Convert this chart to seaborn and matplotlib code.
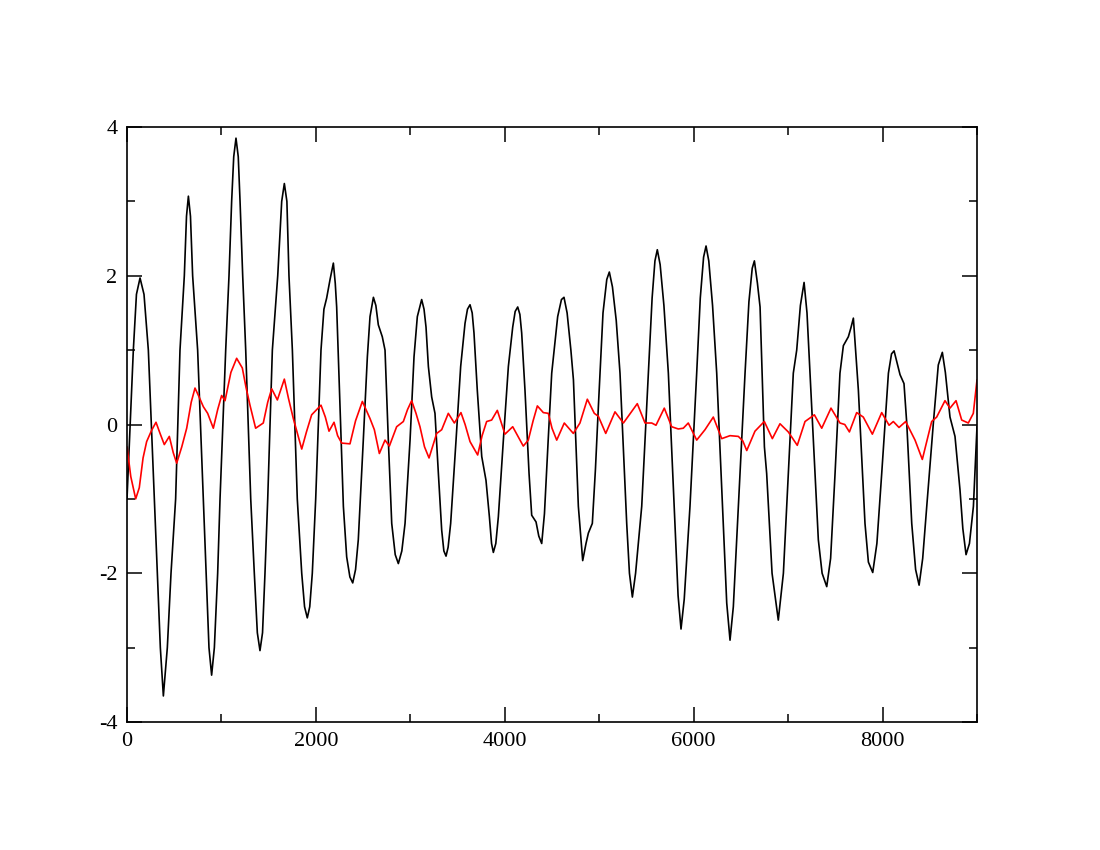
import matplotlib
matplotlib.use("Agg")
import matplotlib.pyplot as plt
import seaborn as sns
import pandas as pd
from matplotlib.ticker import MultipleLocator

# ---- data ----
black_x = [0, 67, 100, 138, 180, 226, 289, 321, 353, 385, 427, 466, 515, 561, 607, 630, 650, 672, 695, 748,
           808, 837, 868, 896, 925, 960, 985, 1045, 1080, 1108, 1130, 1154, 1178, 1197, 1225, 1257,
           1310, 1348, 1380, 1408, 1435, 1461, 1490, 1539, 1596, 1638, 1666, 1693, 1715, 1751,
           1803, 1850, 1880, 1909, 1935, 1962, 1998, 2054, 2085, 2114, 2150, 2185, 2205, 2220, 2255,
           2291, 2326, 2360, 2390, 2420, 2449, 2502, 2545, 2573, 2609, 2635, 2661, 2703, 2732, 2767,
           2803, 2840, 2873, 2910, 2944, 2997, 3039, 3074, 3120, 3145, 3166, 3191, 3226, 3261, 3297,
           3332, 3355, 3378, 3400, 3427, 3484, 3533, 3579, 3605, 3632, 3655, 3674, 3709, 3756, 3801,
           3837, 3860, 3879, 3905, 3932, 3985, 4038, 4084, 4110, 4137, 4160, 4179, 4214, 4257, 4285,
           4331, 4360, 4391, 4420, 4460, 4497, 4560, 4600, 4627, 4660, 4700, 4727, 4779, 4825, 4860,
           4885, 4927, 4960, 4991, 5040, 5080, 5107, 5140, 5180, 5220, 5291, 5320, 5351, 5385, 5450,
           5520, 5560, 5590, 5615, 5645, 5685, 5732, 5802, 5835, 5866, 5900, 5961, 6032, 6070, 6105,
           6131, 6160, 6200, 6244, 6314, 6350, 6385, 6420, 6473, 6544, 6585, 6620, 6643, 6675, 6703,
           6749, 6773, 6830, 6896, 6950, 7002, 7055, 7091, 7130, 7169, 7200, 7250, 7320, 7360, 7409,
           7450, 7497, 7549, 7585, 7638, 7665, 7691, 7715, 7744, 7814, 7850, 7896, 7940, 7991, 8062,
           8095, 8122, 8150, 8185, 8227, 8256, 8309, 8350, 8387, 8425, 8468, 8538, 8590, 8633, 8665,
           8714, 8767, 8820, 8850, 8884, 8920, 8962, 9000]
black_y = [-1.0, 1.0, 1.75, 1.97, 1.75, 1.0, -1.0, -2.0, -3.0, -3.65, -3.0, -2.0, -1.0, 1.0, 2.0, 2.8, 3.07, 2.8, 2.0, 1.0,
           -1.0, -2.0, -3.0, -3.37, -3.0, -2.0, -1.0, 1.0, 2.0, 3.0, 3.6, 3.85, 3.6, 3.0, 2.0, 1.0,
           -1.0, -2.0, -2.8, -3.04, -2.8, -2.0, -1.0, 1.0, 2.0, 3.0, 3.24, 3.0, 2.0, 1.0,
           -1.0, -2.0, -2.45, -2.6, -2.45, -2.0, -1.0, 1.0, 1.55, 1.70, 1.95, 2.17, 1.9, 1.58, 0.24,
           -1.10, -1.78, -2.05, -2.13, -1.95, -1.55, -0.21, 0.91, 1.45, 1.71, 1.6, 1.34, 1.18, 1.0, -0.21,
           -1.33, -1.75, -1.87, -1.7, -1.33, -0.21, 0.91, 1.45, 1.68, 1.55, 1.31, 0.78, 0.37, 0.15, -0.66,
           -1.42, -1.7, -1.77, -1.65, -1.33, -0.21, 0.78, 1.36, 1.55, 1.61, 1.5, 1.23, 0.46, -0.43, -0.75,
           -1.24, -1.6, -1.72, -1.6, -1.24, -0.21, 0.78, 1.31, 1.52, 1.58, 1.48, 1.23, 0.46, -0.66, -1.22,
           -1.31, -1.5, -1.60, -1.2, -0.2, 0.69, 1.45, 1.68, 1.71, 1.5, 1.0, 0.60, -1.10, -1.83, -1.6,
           -1.46, -1.33, -0.6, 0.24, 1.5, 1.95, 2.05, 1.85, 1.4, 0.69, -1.33, -2.0, -2.32, -2.0, -1.10,
           0.69, 1.7, 2.2, 2.35, 2.15, 1.6, 0.69, -1.33, -2.3, -2.75, -2.35, -1.10, 0.69, 1.7, 2.25,
           2.40, 2.2, 1.6, 0.69, -1.33, -2.4, -2.90, -2.45, -1.10, 0.69, 1.65, 2.1, 2.20, 1.9, 1.58,
           -0.30, -0.66, -2.0, -2.63, -2.0, -0.66, 0.69, 1.0, 1.6, 1.91, 1.5, 0.24, -1.55, -2.0, -2.18,
           -1.8, -0.66, 0.69, 1.06, 1.18, 1.3, 1.43, 1.0, 0.46, -1.33, -1.85, -1.99, -1.6, -0.66, 0.69,
           0.95, 0.99, 0.85, 0.67, 0.55, 0.02, -1.33, -1.95, -2.16, -1.8, -1.10, 0.02, 0.8, 0.97, 0.7,
           0.10, -0.16, -0.88, -1.4, -1.75, -1.6, -1.10, -0.03]

red_x = [0, 40, 92, 130, 170, 208, 260, 307, 350, 395, 448, 490, 526, 580, 632, 680, 720, 760, 808, 854,
         914, 960, 1002, 1038, 1100, 1161, 1221, 1260, 1302, 1362, 1443, 1490, 1532, 1592, 1666, 1710,
         1761, 1850, 1900, 1955, 2054, 2100, 2139, 2192, 2230, 2273, 2361, 2420, 2492, 2573, 2619,
         2672, 2732, 2778, 2855, 2926, 2970, 3014, 3060, 3102, 3150, 3198, 3279, 3332, 3402, 3466,
         3536, 3580, 3632, 3713, 3760, 3808, 3861, 3921, 4002, 4084, 4196, 4249, 4300, 4345, 4408,
         4461, 4500, 4550, 4630, 4726, 4796, 4874, 4948, 4991, 5069, 5167, 5256, 5330, 5403, 5485,
         5556, 5601, 5689, 5767, 5837, 5890, 5943, 6032, 6120, 6208, 6297, 6385, 6473, 6520, 6562,
         6649, 6748, 6833, 6914, 7002, 7097, 7179, 7278, 7356, 7454, 7549, 7600, 7649, 7726, 7796,
         7892, 7991, 8069, 8114, 8174, 8245, 8344, 8421, 8520, 8573, 8661, 8714, 8778, 8838, 8908,
         8961, 9000]
red_y = [-0.3, -0.7, -1.0, -0.85, -0.45, -0.23, -0.08, 0.03, -0.12, -0.27, -0.16, -0.38, -0.52, -0.3, -0.05, 0.3, 0.49, 0.38, 0.24, 0.15,
         -0.05, 0.2, 0.39, 0.32, 0.7, 0.89, 0.76, 0.5, 0.26, -0.05, 0.02, 0.3, 0.48, 0.33, 0.61, 0.35,
         0.08, -0.33, -0.1, 0.13, 0.26, 0.1, -0.09, 0.03, -0.15, -0.25, -0.26, 0.05, 0.31, 0.08, -0.07,
         -0.39, -0.21, -0.29, -0.03, 0.04, 0.2, 0.32, 0.15, -0.03, -0.3, -0.45, -0.12, -0.07, 0.15, 0.02,
         0.16, 0.0, -0.23, -0.41, -0.15, 0.04, 0.06, 0.19, -0.13, -0.03, -0.29, -0.21, 0.05, 0.25, 0.16,
         0.15, -0.05, -0.21, 0.02, -0.12, 0.02, 0.34, 0.15, 0.11, -0.12, 0.17, 0.02, 0.15, 0.28, 0.02,
         0.02, -0.01, 0.22, -0.03, -0.06, -0.05, 0.02, -0.21, -0.07, 0.10, -0.19, -0.15, -0.16, -0.22, -0.35,
         -0.09, 0.04, -0.19, 0.01, -0.10, -0.28, 0.04, 0.13, -0.05, 0.22, 0.02, 0.0, -0.10, 0.16, 0.10,
         -0.13, 0.16, -0.01, 0.04, -0.04, 0.04, -0.21, -0.47, 0.04, 0.10, 0.32, 0.22, 0.32, 0.06, 0.02,
         0.15, 0.6]

x_ticks = [0, 2000, 4000, 6000, 8000]
y_ticks = [-4, -2, 0, 2, 4]

# ---- style ----
sns.set_theme(style="ticks")
plt.rcParams["font.family"] = ["Liberation Serif", "DejaVu Serif"]
plt.rcParams["axes.unicode_minus"] = False

fig = plt.figure(figsize=(11, 8.5), dpi=100)
ax = fig.add_axes([127 / 1100, 1 - 722 / 850, 850 / 1100, 595 / 850])

black_df = pd.DataFrame({"x": black_x, "y": black_y})
red_df = pd.DataFrame({"x": red_x, "y": red_y})
sns.lineplot(data=black_df, x="x", y="y", ax=ax, color="black", linewidth=1.2,
             estimator=None, sort=False, solid_joinstyle="round")
sns.lineplot(data=red_df, x="x", y="y", ax=ax, color="#ff0000", linewidth=1.2,
             estimator=None, sort=False, solid_joinstyle="round")

ax.set_xlim(0, 9000)
ax.set_ylim(-4, 4)
ax.set_xticks(x_ticks)
ax.set_yticks(y_ticks)
ax.set_xticklabels([str(t) for t in x_ticks])
ax.set_yticklabels([str(t) for t in y_ticks])
ax.xaxis.set_minor_locator(MultipleLocator(1000))
ax.yaxis.set_minor_locator(MultipleLocator(1))
ax.set_xlabel("")
ax.set_ylabel("")

for s in ax.spines.values():
    s.set_visible(True)
    s.set_linewidth(1.2)
    s.set_color("black")

ax.tick_params(axis="both", which="both", direction="in", top=True, right=True,
               color="black", width=1.1)
ax.tick_params(axis="both", which="major", length=11, labelsize=16, labelcolor="black")
ax.tick_params(axis="both", which="minor", length=6)
ax.tick_params(axis="x", which="major", pad=7)
ax.tick_params(axis="y", which="major", pad=7)

fig.savefig("out.png", dpi=100, facecolor="white")
